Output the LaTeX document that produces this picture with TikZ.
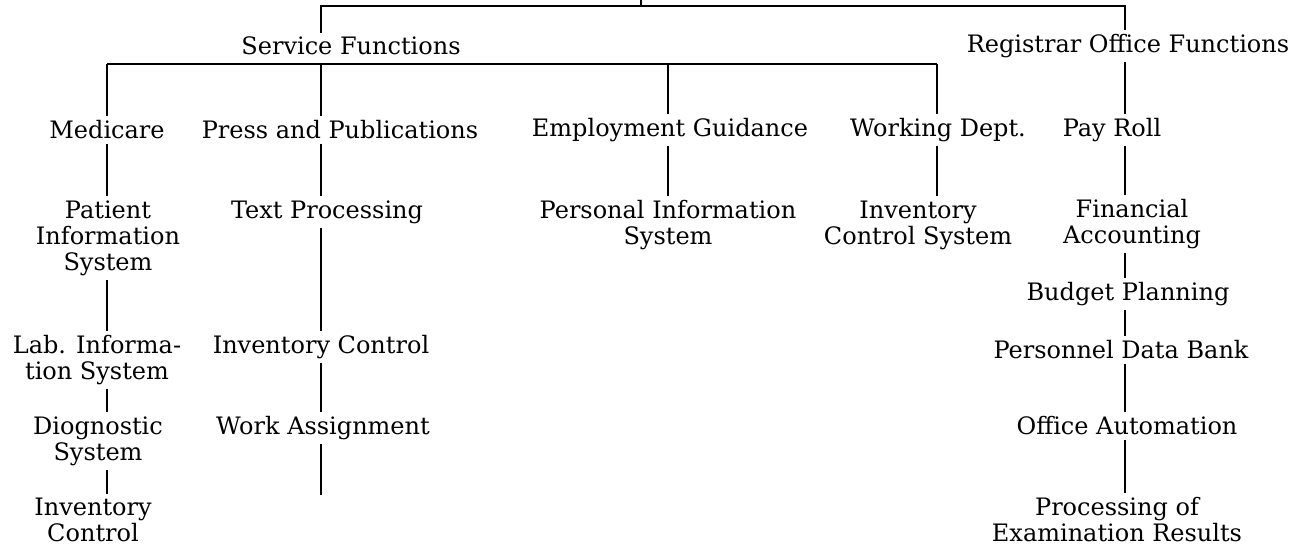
\documentclass[tikz,border=0pt]{standalone}
\usepackage{fontspec}
\setmainfont{DejaVu Serif}
\begin{document}
\begin{tikzpicture}[x=0.5pt, y=-0.5pt,
        lbl/.style={inner sep=2pt, align=center, font=\fontsize{12}{13}\selectfont},
        link/.style={line width=0.6pt}]
        \useasboundingbox (0,0) rectangle (1290,546);

        \coordinate (colA) at (107,0);
        \coordinate (colB) at (321,0);
        \coordinate (colC) at (668,0);
        \coordinate (colD) at (937,0);
        \coordinate (colE) at (1125,0);
        \coordinate (root) at (641,0);
        \coordinate (bus) at (641,6);
        \coordinate (bus2) at (0,64);

        \node[lbl] (serv) at (351,46) {Service Functions};
        \node[lbl] (regi) at (1128,46) {Registrar Office Functions};

        \node[lbl] (med) at (107,130) {Medicare};
        \node[lbl] (press) at (340,130) {Press and Publications};
        \node[lbl] (empl) at (670,130) {Employment Guidance};
        \node[lbl] (work) at (938,130) {Working Dept.};
        \node[lbl] (pay) at (1112,130) {Pay Roll};

        \node[lbl] (pat) at (108,238) {Patient\\Information\\System};
        \node[lbl] (lab) at (97,360) {Lab. Informa-\\tion System};
        \node[lbl] (diag) at (98,441) {Diognostic\\System};
        \node[lbl] (invc) at (93,520) {Inventory\\Control};

        \node[lbl] (text) at (327,212) {Text Processing};
        \node[lbl] (invb) at (321,347) {Inventory Control};
        \node[lbl] (wass) at (323,428) {Work Assignment};
        \coordinate (wend) at (321,495);

        \node[lbl] (pers) at (668,225) {Personal Information\\System};
        \node[lbl] (invs) at (918,225) {Inventory\\Control System};

        \node[lbl] (fin) at (1132,224) {Financial\\Accounting};
        \node[lbl] (budg) at (1128,294) {Budget Planning};
        \node[lbl] (pdb) at (1121,350) {Personnel Data Bank};
        \node[lbl] (offa) at (1127,426) {Office Automation};
        \node[lbl] (proc) at (1117,520) {Processing of\\Examination Results};

        \draw[link] (root) -- (bus);
        \draw[link] (serv.north -| colB) -- (colB |- bus) -- (colE |- bus) -- (regi.north -| colE);
        \draw[link] (colA |- bus2) -- (colD |- bus2);
        \foreach \c/\n in {colA/med, colB/press, colC/empl, colD/work}
            \draw[link] (\c |- bus2) -- (\n.north -| \c);
        \draw[link] (regi.south -| colE) -- (pay.north -| colE);

        \foreach \a/\b in {med/pat, pat/lab, lab/diag, diag/invc}
            \draw[link] (\a.south -| colA) -- (\b.north -| colA);
        \foreach \a/\b in {press/text, text/invb, invb/wass}
            \draw[link] (\a.south -| colB) -- (\b.north -| colB);
        \draw[link] (wass.south -| colB) -- (wend);
        \draw[link] (empl.south -| colC) -- (pers.north -| colC);
        \draw[link] (work.south -| colD) -- (invs.north -| colD);
        \foreach \a/\b in {pay/fin, fin/budg, budg/pdb, pdb/offa, offa/proc}
            \draw[link] (\a.south -| colE) -- (\b.north -| colE);
\end{tikzpicture}
\end{document}
